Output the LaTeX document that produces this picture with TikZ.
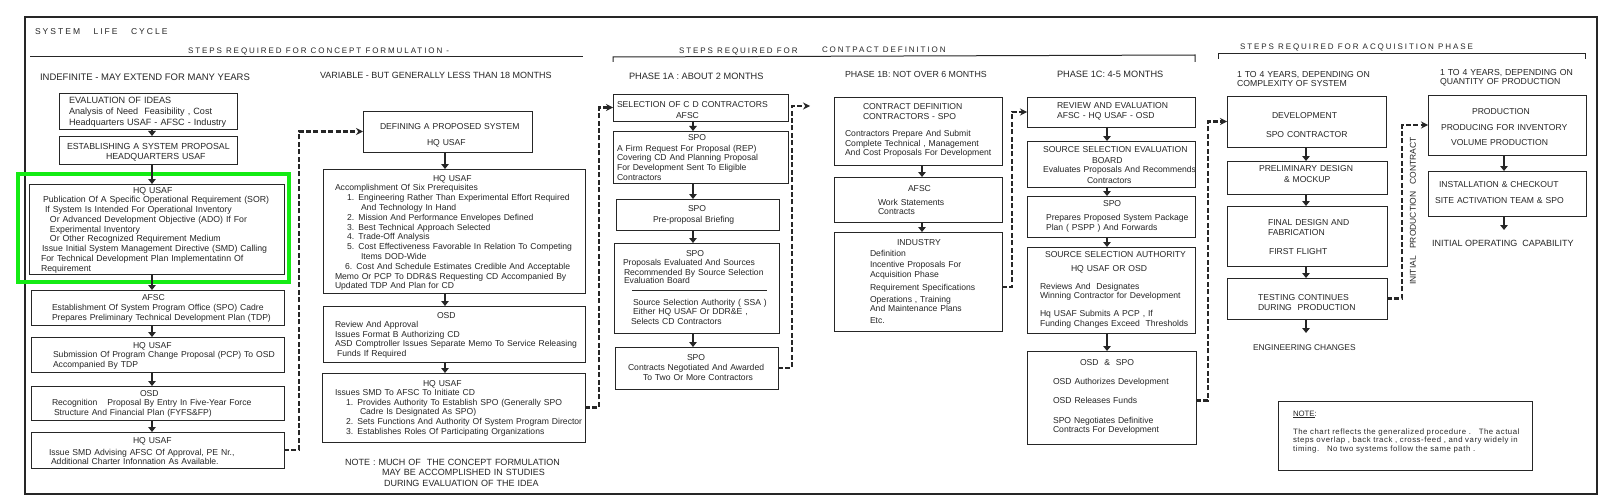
\documentclass[tikz,border=0pt]{standalone}
\usepackage{fontspec}
\setmainfont{Liberation Sans}
\newfontfamily\spacedfont[LetterSpace=24]{Liberation Sans}
\newfontfamily\notefont[LetterSpace=7]{Liberation Sans}
\usetikzlibrary{arrows.meta}
\definecolor{ink}{gray}{0.15}
\definecolor{hilite}{RGB}{20,235,20}
\newcommand\myfs[2]{\fontsize{#1}{#2}\selectfont\lineskiplimit=-50pt\lineskip=0pt}
\newcommand\Ind[1]{\hspace*{#1pt}}
\newcommand\mybox[5]{\node[bx,minimum width={(#4)-(#2)},minimum height={(#5)-(#3)}] (#1) at ({((#2)+(#4))/2},{((#3)+(#5))/2}) {};}
\newcommand\mytext[4][]{\node[tx,#1] (#2) at (#3) {#4};}
\begin{document}
\begin{tikzpicture}[x=1pt,y=-1pt,
  bx/.style={draw=ink,line width=0.9pt,inner sep=0pt,outer sep=0pt},
  tx/.style={inner sep=0pt,outer sep=0pt,text width=400pt,align=left,anchor=base west,text=ink,font=\myfs{8.6}{9.7}},
  hd/.style={inner sep=0pt,outer sep=0pt,anchor=base west,text=ink,font=\myfs{9.2}{10}},
  sp/.style={inner sep=0pt,outer sep=0pt,anchor=base west,text=ink,font={\spacedfont\fontsize{8}{9}\selectfont}},
  arr/.style={draw=ink,line width=2pt,-{Triangle[length=5pt,width=7.5pt]}},
  darr/.style={draw=ink,line width=2.6pt,dash pattern=on 5pt off 2.4pt,-{Stealth[length=7pt,width=7pt]}},
  rule/.style={draw=ink,line width=1pt}]
\useasboundingbox (0,0) rectangle (1605,500);
\fill[white] (0,0) rectangle (1605,500);
\draw[ink,line width=1.2pt] (25,17) rectangle (1597,494);

% ---------- headings ----------
\node[sp,font={\spacedfont\fontsize{8.5}{9}\selectfont}] (h0) at (35,34.5) {SYSTEM\hspace{9pt} LIFE\hspace{9pt} CYCLE};
\node[sp] (h1) at (188,53.5) {STEPS REQUIRED FOR CONCEPT FORMULATION -};
\node[sp] (h2) at (679,53.5) {STEPS REQUIRED FOR};
\node[sp] (h3) at (822,52.5) {CONTPACT DEFINITION};
\node[sp] (h4) at (1240,50) {STEPS REQUIRED FOR ACQUISITION PHASE};
\draw[rule] (30,57) -- (583,57);
\draw[rule] (613,62) -- (613,57) -- (1195,55) -- (1195,62);
\draw[rule] (1218,59) -- (1218,54) -- (1585,54) -- (1585,59);

\node[hd,font=\myfs{9.5}{10}] (c1) at (40,80.5) {INDEFINITE - MAY EXTEND FOR MANY YEARS};
\node[hd,font=\myfs{9}{10}] (c2) at (320,78.3) {VARIABLE - BUT GENERALLY LESS THAN 18 MONTHS};
\node[hd] (c3) at (629,79.3) {PHASE 1A : ABOUT 2 MONTHS};
\node[hd,font=\myfs{8.8}{10}] (c4) at (845,77.5) {PHASE 1B: NOT OVER 6 MONTHS};
\node[hd] (c5) at (1057,77.5) {PHASE 1C: 4-5 MONTHS};
\mytext[font=\myfs{8.7}{9.2}]{c6}{1237,77.5}{1 TO 4 YEARS, DEPENDING ON\\COMPLEXITY OF SYSTEM}
\mytext[font=\myfs{8.7}{9.2}]{c7}{1440,75.7}{1 TO 4 YEARS, DEPENDING ON\\QUANTITY OF PRODUCTION}

% ---------- column coordinates ----------
\coordinate (k1) at (152,0);
\coordinate (k2) at (445,0);
\coordinate (k3) at (693,0);
\coordinate (k4) at (922,0);
\coordinate (k5) at (1107,0);
\coordinate (k6) at (1306,0);
\coordinate (k7) at (1504,0);

% ---------- column 1 ----------
\mybox{A}{59}{93}{237}{129}
\mybox{B}{59}{136}{237}{164}
\mybox{C}{29}{184}{284}{274}
\mybox{D}{31}{290}{284}{325}
\mybox{E}{31}{337}{284}{372}
\mybox{F}{31}{386}{284}{420}
\mybox{G}{31}{432}{284}{468}
\draw[hilite,line width=4pt] (18,174) rectangle (289,282);

\mytext[font=\myfs{9.1}{10.5}]{tA}{69,104}{EVALUATION OF IDEAS\\Analysis of Need\ \ Feasibility , Cost\\Headquarters USAF - AFSC - Industry}
\mytext[font=\myfs{8.8}{10}]{tB}{67,149}{ESTABLISHING A SYSTEM PROPOSAL\\\Ind{39}HEADQUARTERS USAF}
\mytext[font=\myfs{8.75}{9.75}]{tC}{41,193}{\Ind{92}HQ USAF\\
\Ind{2}Publication Of A Specific Operational Requirement (SOR)\\
\Ind{4}If System Is Intended For Operational Inventory\\
\Ind{9}Or Advanced Development Objective (ADO) If For\\
\Ind{9}Experimental Inventory\\
\Ind{9}Or Other Recognized Requirement Medium\\
\Ind{1}Issue Initial System Management Directive (SMD) Calling\\
For Technical Development Plan Implementatinn Of\\
Requirement}
\mytext[font=\myfs{8.6}{10}]{tD}{52,300}{\Ind{90}AFSC\\Establishment Of System Program Office (SPO) Cadre\\Prepares Preliminary Technical Development Plan (TDP)}
\mytext{tE}{53,348}{\Ind{80}HQ USAF\\Submission Of Program Change Proposal (PCP) To OSD\\Accompanied By TDP}
\mytext{tF}{52,396}{\Ind{88}OSD\\Recognition\hspace{10pt}Proposal By Entry In Five-Year Force\\\Ind{2}Structure And Financial Plan (FYFS\&FP)}
\mytext{tG}{49,443}{\Ind{84}HQ USAF\\[3pt]Issue SMD Advising AFSC Of Approval, PE Nr.,\\[-1.4pt]\Ind{2}Additional Charter Infonnation As Available.}

\draw[arr] (A.south -| k1) -- (B.north -| k1);
\draw[arr] (B.south -| k1) -- (C.north -| k1);
\draw[arr] (C.south -| k1) -- (D.north -| k1);
\draw[arr] (D.south -| k1) -- (E.north -| k1);
\draw[arr] (E.south -| k1) -- (F.north -| k1);
\draw[arr] (F.south -| k1) -- (G.north -| k1);

% ---------- column 2 ----------
\mybox{H}{363}{111}{532}{152}
\mybox{I}{323}{169}{585}{293}
\mybox{J}{323}{306}{585}{362}
\mybox{K}{322}{373}{585}{442}
\mytext{tH}{380,130}{DEFINING A PROPOSED SYSTEM\\[6.3pt]\Ind{47}HQ USAF}
\mytext[font=\myfs{8.6}{9.8}]{tI}{335,181}{\Ind{98}HQ USAF\\
Accomplishment Of Six Prerequisites\\
\Ind{12}1. Engineering Rather Than Experimental Effort Required\\
\Ind{26}And Technology In Hand\\
\Ind{12}2. Mission And Performance Envelopes Defined\\
\Ind{12}3. Best Technical Approach Selected\\
\Ind{12}4. Trade-Off Analysis\\
\Ind{12}5. Cost Effectiveness Favorable In Relation To Competing\\
\Ind{26}Items DOD-Wide\\
\Ind{10}6. Cost And Schedule Estimates Credible And Acceptable\\
Memo Or PCP To DDR\&S Requesting CD Accompanied By\\
Updated TDP And Plan for CD}
\mytext[font=\myfs{8.6}{9.6}]{tJ}{335,318}{\Ind{102}OSD\\Review And Approval\\Issues Format B Authorizing CD\\ASD Comptroller Issues Separate Memo To Service Releasing\\\Ind{2}Funds If Required}
\mytext[font=\myfs{8.6}{9.6}]{tK}{335,386}{\Ind{88}HQ USAF\\Issues SMD To AFSC To Initiate CD\\
\Ind{11}1. Provides Authority To Establish SPO (Generally SPO\\
\Ind{25}Cadre Is Designated As SPO)\\
\Ind{11}2. Sets Functions And Authority Of System Program Director\\
\Ind{11}3. Establishes Roles Of Participating Organizations}
\mytext[font=\myfs{9}{10.5}]{tnote}{345,465}{NOTE : MUCH OF\ \ THE CONCEPT FORMULATION\\\Ind{37}MAY BE ACCOMPLISHED IN STUDIES\\\Ind{39}DURING EVALUATION OF THE IDEA}

\draw[arr] (H.south -| k2) -- (I.north -| k2);
\draw[arr] (I.south -| k2) -- (J.north -| k2);
\draw[arr] (J.south -| k2) -- (K.north -| k2);

% ---------- phase 1A ----------
\mybox{L}{613}{94}{788}{121}
\mybox{M}{613}{131}{788}{183}
\mybox{N}{616}{199}{779}{230}
\mybox{O}{614}{243}{779}{333}
\mybox{P}{615}{347}{778}{389}
\mytext[font=\myfs{8.6}{10}]{tL}{617,108}{SELECTION OF C D CONTRACTORS\\\Ind{59}AFSC}
\mytext[font=\myfs{8.6}{9.8}]{tM}{617,140}{\Ind{71}SPO\\[1.2pt]A Firm Request For Proposal (REP)\\Covering CD And Planning Proposal\\For Development Sent To Eligible\\Contractors}
\mytext{tN}{653,211}{\Ind{35}SPO\\[2pt]Pre-proposal Briefing}
\mytext{tO}{623,256}{\Ind{63}SPO\\Proposals Evaluated And Sources\\\Ind{1}Recommended By Source Selection\\[-1.5pt]\Ind{1}Evaluation Board}
\draw[ink,line width=0.7pt] (632,290) -- (767,290);
\mytext[font=\myfs{8.6}{9.5}]{tO2}{633,305}{Source Selection Authority ( SSA )\\Either HQ USAF Or DDR\&E ,\\\Ind{-2}Selects CD Contractors}
\mytext[font=\myfs{8.6}{10}]{tP}{628,360}{\Ind{59}SPO\\Contracts Negotiated And Awarded\\\Ind{15}To Two Or More Contractors}

\draw[arr] (L.south -| k3) -- (M.north -| k3);
\draw[arr] (M.south -| k3) -- (N.north -| k3);
\draw[arr] (N.south -| k3) -- (O.north -| k3);
\draw[arr] (O.south -| k3) -- (P.north -| k3);

% ---------- phase 1B ----------
\mybox{Q}{834}{97}{1002}{165}
\mybox{R}{834}{177}{1002}{222}
\mybox{S}{834}{232}{1002}{331}
\mytext[font=\myfs{8.6}{9.5}]{tQ}{845,110}{\Ind{18}CONTRACT DEFINITION\\\Ind{18}CONTRACTORS - SPO\\[8pt]Contractors Prepare And Submit\\Complete Technical , Management\\And Cost Proposals For Development}
\mytext{tR}{878,191}{\Ind{30}AFSC\\[4.3pt]Work Statements\\Contracts}
\mytext{tS}{870,245}{\Ind{27}INDUSTRY\\[1.5pt]Definition\\[2pt]Incentive Proposals For\\Acquisition Phase\\[3pt]Requirement Specifications\\[2pt]Operations , Training\\And Maintenance Plans\\[2pt]Etc.}
\draw[arr] (Q.south -| k4) -- (R.north -| k4);
\draw[arr] (R.south -| k4) -- (S.north -| k4);

% ---------- phase 1C ----------
\mybox{T}{1027}{97}{1195}{127}
\mybox{U}{1027}{141}{1195}{187}
\mybox{V}{1027}{196}{1195}{237}
\mybox{W}{1027}{247}{1195}{333}
\mybox{X}{1027}{351}{1196}{444}
\mytext[font=\myfs{8.6}{10}]{tT}{1057,109}{REVIEW AND EVALUATION\\AFSC - HQ USAF - OSD}
\mytext[font=\myfs{8.6}{10}]{tU}{1043,153}{SOURCE SELECTION EVALUATION\\\Ind{49}BOARD\\Evaluates Proposals And Recommends\\\Ind{44}Contractors}
\mytext[font=\myfs{8.6}{10.5}]{tV}{1046,206}{\Ind{57}SPO\\[3.5pt]Prepares Proposed System Package\\Plan ( PSPP ) And Forwards}
\mytext{tW}{1040,257}{\Ind{5}SOURCE SELECTION AUTHORITY\\[4.3pt]\Ind{31}HQ USAF OR OSD\\[8.3pt]Reviews And\ \ Designates\\Winning Contractor for Development\\[8.3pt]Hq USAF Submits A PCP , If\\Funding Changes Exceed\ \ Thresholds}
\mytext[font=\myfs{8.6}{9.5}]{tX}{1053,365}{\Ind{27}OSD \ \& \ SPO\\[9.5pt]OSD Authorizes Development\\[9.5pt]OSD Releases Funds\\[10.5pt]SPO Negotiates Definitive\\Contracts For Development}
\draw[arr] (T.south -| k5) -- (U.north -| k5);
\draw[arr] (U.south -| k5) -- (V.north -| k5);
\draw[arr] (V.south -| k5) -- (W.north -| k5);
\draw[arr] (W.south -| k5) -- (X.north -| k5);

% ---------- acquisition ----------
\mybox{Y}{1227}{96}{1386}{147}
\mybox{Z}{1227}{161}{1387}{194}
\mybox{AA}{1227}{206}{1387}{266}
\mybox{AB}{1227}{278}{1387}{319}
\mybox{AC}{1428}{95}{1586}{155}
\mybox{AD}{1428}{171}{1586}{216}
\mytext[font=\myfs{8.6}{10}]{tY}{1266,119}{\Ind{6}DEVELOPMENT\\[8pt]SPO CONTRACTOR}
\mytext[font=\myfs{8.6}{10}]{tZ}{1259,171}{PRELIMINARY DESIGN\\[1pt]\Ind{25}\& MOCKUP}
\mytext[font=\myfs{8.6}{10}]{tAA}{1268,225}{FINAL DESIGN AND\\FABRICATION\\[9pt]\Ind{1}FIRST FLIGHT}
\mytext[font=\myfs{8.6}{10.5}]{tAB}{1258,300}{TESTING CONTINUES\\DURING\ \ PRODUCTION}
\mytext[font=\myfs{8.6}{10}]{tAC}{1441,115}{\Ind{31}PRODUCTION\\[6pt]PRODUCING FOR INVENTORY\\[5pt]\Ind{10}VOLUME PRODUCTION}
\mytext[font=\myfs{8.6}{10}]{tAD}{1435,187}{\Ind{4}INSTALLATION \& CHECKOUT\\[6pt]SITE ACTIVATION TEAM \& SPO}
\node[hd,font=\myfs{8.4}{10}] (eng) at (1253,350) {ENGINEERING CHANGES};
\node[hd,font=\myfs{9}{10}] (ioc) at (1432,246) {INITIAL OPERATING\ \ CAPABILITY};
\coordinate (engtop) at (1306,333);
\coordinate (ioctop) at (1504,230);
\node[hd,rotate=90,anchor=center,font=\myfs{8.5}{9}] (ipc) at (1413,211) {INITIAL\hspace{5pt} PRODUCTION\hspace{5pt} CONTRACT};

\draw[arr] (Y.south -| k6) -- (Z.north -| k6);
\draw[arr] (Z.south -| k6) -- (AA.north -| k6);
\draw[arr] (AA.south -| k6) -- (AB.north -| k6);
\draw[arr] (AB.south -| k6) -- (engtop);
\draw[arr] (AC.south -| k7) -- (AD.north -| k7);
\draw[arr] (AD.south -| k7) -- (ioctop);

% ---------- note box ----------
\mybox{NB}{1278}{401}{1532}{470}
\mytext[font=\myfs{7.8}{8.3}]{tNB0}{1293,416}{\underline{NOTE}:}
\mytext[font={\notefont\myfs{7.8}{8.3}}]{tNB}{1293,434.5}{The chart reflects the generalized procedure .\ \ \ The actual\\steps overlap , back track , cross-feed , and vary widely in\\timing.\ \ \ No two systems follow the same path .}

% ---------- dashed connectors ----------
\coordinate (qin) at (810,106);
\draw[darr] (G.east) -- ++(15,0) |- (H.west);
\draw[darr] (K.east) -- ++(14,0) |- (L.west);
\draw[darr] (P.east) -- ++(14,0) |- (qin);
\draw[darr] ([yshift=-5.5pt]S.east) -- ++(10,0) |- (T.west);
\draw[darr] ([yshift=-3pt]X.east) -- ++(12,0) |- (Y.west);
\draw[darr] (AB.east) -- ++(15,0) |- (AC.west);
\end{tikzpicture}
\end{document}
